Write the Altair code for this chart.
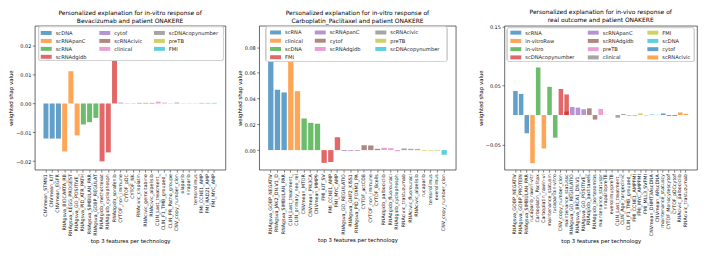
import altair as alt
import pandas as pd

FONT = "DejaVu Sans"
TAB10 = ["#1f77b4", "#ff7f0e", "#2ca02c", "#d62728", "#9467bd",
         "#8c564b", "#e377c2", "#7f7f7f", "#bcbd22", "#17becf"]

# ---------------- Panel 1 ----------------
p1_title = ["Personalized explanation for in-vitro response of",
            "Bevacizumab and patient ONAKERE"]
p1_techs = ["scDNA", "scRNApanC", "scRNA", "scRNAdgidb", "cytof",
            "scRNAcivic", "clinical", "scDNAcopynumber", "preTB", "FMI"]
p1_features = ["CNVmean_STMN1", "CNVmean_KIT", "CNVmean_EGFR",
               "RNAgsva_BIOCARTA_RB", "RNAgsva_KEGG_PROGEST", "RNAgsva_GO_POSITIVE_",
               "RNAgsva_PID_ATR_PATH", "RNAgsva_SIMBULAN_PAR", "RNAgsva_GOBP_REGULAT",
               "RNAdgidb_methotrexat", "RNAdgidb_cyclophosph", "RNAdgidb_sorafenib",
               "CYTOF_non_immune", "CYTOF_pDC", "CYTOF_NK",
               "RNAcivic_cisplatin", "RNAcivic_gemcitabine", "RNAcivic_alpelisib",
               "CLIN_Last_treatment_", "CLIN_F1_TMB_grouped_", "CLIN_PR_Patho_groupe",
               "CNV_copy_number_clon",
               "olaparib", "niraparib", "temsirolimus",
               "FMI_CCNE1_AMP", "FMI_RAD21_AMP", "FMI_MYC_AMP"]
p1_bar_tech = (["scDNA"] * 3 + ["scRNApanC"] * 3 + ["scRNA"] * 3 + ["scRNAdgidb"] * 3
               + ["cytof"] * 3 + ["scRNAcivic"] * 3 + ["clinical"] * 3
               + ["scDNAcopynumber"] + ["preTB"] * 3 + ["FMI"] * 3)
p1_values = [-0.0122, -0.0122, -0.0122,
             -0.0167, 0.0112, -0.0111,
             -0.0073, -0.0065, -0.0050,
             -0.0201, -0.0170, 0.0162,
             0.0003, 0.0001, 0.0001,
             0.0002, 0.0002, 0.0002,
             0.0006, 0.0003, 0.0001,
             0.0003,
             0.0001, 0.0001, 0.0001,
             0.0002, 0.0002, 0.0002]
p1_overlap = {}
p1_ydomain = [-0.023, 0.027]
p1_yticks = [-0.02, -0.01, 0.0, 0.01, 0.02]

# ---------------- Panel 2 ----------------
p2_title = ["Personalized explanation for in-vitro response of",
            "Carboplatin_Paclitaxel and patient ONAKERE"]
p2_techs = ["scRNA", "clinical", "scDNA", "FMI", "scRNApanC", "cytof",
            "scRNAdgidb", "scRNAcivic", "preTB", "scDNAcopynumber"]
p2_features = ["RNAgsva_GOBP_NEGATIV", "RNAgsva_JAK2_DN.V1_D", "RNAgsva_SIMBULAN_PAR",
               "CLIN_Last_treatment_", "CLIN_primary_neo_rel",
               "CNVmean_MTOR", "CNVmean_PIK3CA", "CNVmean_MMP9",
               "FMI_KIT_SV", "FMI_CCNE1_AMP", "FMI_MYC_AMP",
               "RNAgsva_GO_REGULATIO", "RNAgsva_GNF2_KISS1", "RNAgsva_PID_FOXM1_PA",
               "CYTOF_actCD8", "CYTOF_non_immune", "CYTOF_Bcells",
               "RNAdgidb_palbociclib", "RNAdgidb_fluorouraci", "RNAdgidb_cyclophosph",
               "RNAcivic_trastuzumab", "RNAcivic_fluorouraci", "RNAcivic_alpelisib",
               "rucaparib", "temsirolimus", "everolimus",
               "CNV_copy_number_clon"]
p2_bar_tech = (["scRNA"] * 3 + ["clinical"] * 2 + ["scDNA"] * 3 + ["FMI"] * 3
               + ["scRNApanC"] * 3 + ["cytof"] * 3 + ["scRNAdgidb"] * 3
               + ["scRNAcivic"] * 3 + ["preTB"] * 3 + ["scDNAcopynumber"])
p2_values = [0.0708, 0.0469, 0.0448,
             0.0880, 0.0458,
             0.0246, 0.0212, 0.0205,
             -0.0099, -0.0092, 0.0100,
             -0.0007, -0.0006, -0.0006,
             0.0038, 0.0036, 0.0010,
             0.0018, 0.0015, -0.0008,
             0.0013, 0.0010, 0.0008,
             -0.0005, -0.0005, -0.0005,
             -0.0036]
p2_overlap = {}
p2_ydomain = [-0.0152, 0.0966]
p2_yticks = [0.0, 0.02, 0.04, 0.06, 0.08]

# ---------------- Panel 3 ----------------
p3_title = ["Personalized explanation for in-vivo response of",
            "real outcome and patient ONAKERE"]
p3_techs = ["scRNA", "in-vitroRaw", "in-vitro", "scDNAcopynumber",
            "scRNApanC", "scRNAdgidb", "preTB", "clinical",
            "FMI", "scDNA", "cytof", "scRNAcivic"]
p3_features = ["RNAgsva_GOBP_NEGATIV", "RNAgsva_GOBP_PROTEIN", "RNAgsva_SIMBULAN_PAR",
               "rucaparib_rawin-vitr", "Carboplatin_Paclitax", "Carboplatin_rawin-vi",
               "maintenance_statusin", "rucaparibin-vitro",
               "CNV_copy_number_clon", "maintenance_statussc",
               "RNAgsva_GO_REGULATIO", "RNAgsva_BRCA1_DN.V1_", "RNAgsva_GO_POSITIVE_",
               "RNAdgidb_paclitaxels", "RNAdgidb_bortezomibs",
               "maintenance_statuspr", "niraparibpreTB", "everolimuspreTB",
               "CLIN_Last_treatment_", "CLIN_Age_rangeclinic", "CLIN_F1_TMB_grouped_",
               "FMI_CCNE1_AMPFMI", "FMI_MYC_AMPFMI", "FMI_MLL3_SVFMI",
               "CNVmean_DNMT3AscDNA", "CNVmean_ARscDNA",
               "maintenance_statuscy", "CYTOF_Monocytescytof", "CYTOF_pDCcytof",
               "RNAcivic_palbociclib", "RNAcivic_trastuzumab"]
p3_bar_tech = (["scRNA"] * 3
               + ["in-vitroRaw", "in-vitro", "in-vitroRaw", "in-vitro", "in-vitro"]
               + ["scDNAcopynumber"] * 2 + ["scRNApanC"] * 3 + ["scRNAdgidb"] * 2
               + ["preTB"] * 3 + ["clinical"] * 3 + ["FMI"] * 3 + ["scDNA"] * 2
               + ["cytof"] * 3 + ["scRNAcivic"] * 2)
p3_values = [0.041, 0.036, -0.031,
             -0.082, 0.081, -0.057, 0.048, -0.0385,
             0.0445, 0.035,
             0.0137, 0.0126, 0.0099,
             0.0115, -0.0077,
             0.0104, 0.0003, 0.0002,
             -0.0045, 0.0017, -0.0010,
             -0.0017, 0.0027, -0.0010,
             0.0010, 0.0005,
             0.0027, -0.0017, -0.0017,
             0.0044, 0.0020]
p3_overlap = {9: 0.006}
p3_ydomain = [-0.093, 0.152]
p3_yticks = [-0.05, 0.0, 0.05, 0.10, 0.15]

X_TITLE = "top 3 features per technology"
Y_TITLE = "weighted shap value"

# legend layout (pixels inside each plot area): box [x0, x1, y0, y1],
# swatch column offsets, first row centre, row step
p1_leg = dict(box=[4, 190, 1, 35], cols=[6, 65, 120], row0=7.3, rowstep=8.0)
p2_leg = dict(box=[7, 189, 1, 36], cols=[11, 56, 117], row0=6.8, rowstep=8.3)
p3_leg = dict(box=[3, 191, 2, 36], cols=[6, 84, 144], row0=7.0, rowstep=8.3)

SW_W, SW_H, TXT_GAP = 11, 4, 4


def column_slots(n, ncol=3):
    """matplotlib legend fill: column by column, first n % ncol columns one longer."""
    base, extra = divmod(n, ncol)
    sizes = [base + (1 if c < extra else 0) for c in range(ncol)]
    slots = []
    for c, s in enumerate(sizes):
        for r in range(s):
            slots.append((c, r))
    return slots


def panel(title, techs, features, bar_tech, values, overlap, ydomain, yticks,
          width, leg):
    df = pd.DataFrame({"feature": features, "tech": bar_tech, "value": values})
    df["value2"] = [overlap.get(i) for i in range(len(features))]
    n = len(features)
    # matplotlib-like 5% x-margin: outer padding of 0.05*(n-0.2) steps
    po = 0.05 * (n - 0.2)
    step = width / (n - 0.2 + 2 * po)
    inset = (po - 1) * step
    xscale = alt.Scale(domain=features, paddingInner=0.2, paddingOuter=1,
                       range=[inset, width - inset])
    colors = {t: TAB10[i % 10] for i, t in enumerate(techs)}
    cscale = alt.Scale(domain=techs, range=[colors[t] for t in techs])
    xenc = alt.X("feature:N", sort=None, scale=xscale,
                 axis=alt.Axis(title=X_TITLE, labelAngle=-90, labelFontSize=4.8,
                               labelOverlap=False, labelPadding=1.5, tickSize=2.5,
                               domain=False, titleFontSize=5.4, titleFontWeight="normal",
                               titlePadding=3, labelColor="#111"))
    yscale = alt.Scale(domain=ydomain, nice=False, zero=False)
    yaxis = alt.Axis(title=Y_TITLE, values=yticks, format=".2f", grid=False,
                     labelFontSize=5, tickSize=2.5, labelPadding=1.5, domain=False,
                     labelOverlap=False, titleFontSize=5.4, titleFontWeight="normal",
                     titlePadding=2, labelColor="#111")
    base = alt.Chart(df)
    bars = base.mark_bar(opacity=0.7).encode(
        x=xenc,
        y=alt.Y("value:Q", scale=yscale, axis=yaxis),
        color=alt.Color("tech:N", scale=cscale, legend=None),
    )
    layers = [bars]
    if overlap:
        over = base.transform_filter("isValid(datum.value2)").mark_bar(opacity=0.7).encode(
            x=alt.X("feature:N", sort=None, scale=xscale),
            y=alt.Y("value2:Q", scale=yscale),
            color=alt.Color("tech:N", scale=cscale, legend=None),
        )
        layers.append(over)

    # hand-built matplotlib-style legend (3 columns, filled column by column)
    slots = column_slots(len(techs))
    rows = []
    for t, (c, r) in zip(techs, slots):
        sx = leg["cols"][c]
        sy = leg["row0"] + r * leg["rowstep"]
        rows.append({"tech": t, "sx": sx, "sx2": sx + SW_W,
                     "sy1": sy - SW_H / 2, "sy2": sy + SW_H / 2,
                     "tx": sx + SW_W + TXT_GAP, "ty": sy})
    ldf = pd.DataFrame(rows)
    bx0, bx1, by0, by1 = leg["box"]
    box = alt.Chart(ldf).mark_rect(fill="white", fillOpacity=0.8, stroke="#cccccc",
                                   strokeWidth=0.8, cornerRadius=2).encode(
        x=alt.value(bx0), x2=alt.value(bx1), y=alt.value(by0), y2=alt.value(by1))
    sw = alt.Chart(ldf).mark_rect(opacity=0.7).encode(
        x=alt.X("sx:Q", scale=None, axis=None), x2="sx2:Q",
        y=alt.Y("sy1:Q", scale=None, axis=None), y2="sy2:Q",
        color=alt.Color("tech:N", scale=cscale, legend=None))
    txt = alt.Chart(ldf).mark_text(align="left", baseline="middle", fontSize=5.2,
                                   font=FONT, color="#222").encode(
        x=alt.X("tx:Q", scale=None, axis=None),
        y=alt.Y("ty:Q", scale=None, axis=None),
        text="tech:N")
    layers += [box, sw, txt]
    return alt.layer(*layers).properties(
        width=width, height=145,
        title=alt.TitleParams(text=title, fontSize=6, fontWeight="normal",
                              lineHeight=7.5, offset=2, anchor="middle", font=FONT),
    )


c1 = panel(p1_title, p1_techs, p1_features, p1_bar_tech, p1_values, p1_overlap,
           p1_ydomain, p1_yticks, 192, p1_leg)
c2 = panel(p2_title, p2_techs, p2_features, p2_bar_tech, p2_values, p2_overlap,
           p2_ydomain, p2_yticks, 198, p2_leg)
c3 = panel(p3_title, p3_techs, p3_features, p3_bar_tech, p3_values, p3_overlap,
           p3_ydomain, p3_yticks, 194, p3_leg)

inner = alt.hconcat(c1, c2, spacing=10).resolve_scale(
    color="independent", x="independent", y="independent")
chart = alt.hconcat(inner, c3, spacing=21).resolve_scale(
    color="independent", x="independent", y="independent"
).properties(padding=0).configure(font=FONT).configure_view(
    stroke="#444", strokeWidth=0.8
).configure_axis(labelFont=FONT, titleFont=FONT, tickColor="#333", tickWidth=0.6)

chart.save("out.html", embed_options={"renderer": "svg", "actions": False})
